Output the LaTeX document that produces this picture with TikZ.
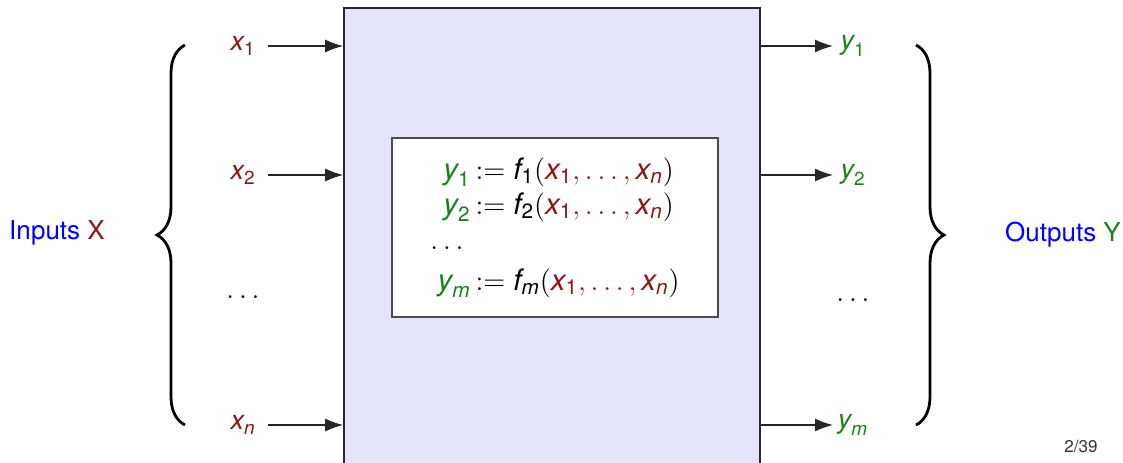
\documentclass[tikz,border=0pt]{standalone}
\usepackage{amsmath}
\usepackage{fontspec}
\setmainfont{TeX Gyre Heros}
\usetikzlibrary{arrows.meta,positioning,decorations.pathreplacing}
\definecolor{inred}{RGB}{139,22,22}
\definecolor{outgreen}{RGB}{25,130,25}
\definecolor{boxfill}{RGB}{228,228,250}
\newcommand{\vv}[1]{\text{\itshape #1}}
\newcommand{\xin}[1]{\textcolor{inred}{\vv{x}_{#1}}}
\newcommand{\yout}[1]{\textcolor{outgreen}{\vv{y}_{#1}}}
\newcommand{\xargs}{\textcolor{inred}{\vv{x}_{\text{1}}, \ldots, \vv{x}_{\vv{n}}}}

\begin{document}
\begin{tikzpicture}[
  x=0.5pt,y=-0.5pt,
  every node/.style={font=\fontsize{13.5}{16}\selectfont},
  lbl/.style={inner sep=1pt},
  feed/.style={draw=black!85,line width=0.7pt,-{Latex[length=9pt,width=6.5pt]}},
  brc/.style={draw=black,line width=1.4pt,decorate,decoration={brace,amplitude=14pt}}
]
\useasboundingbox (0,0) rectangle (1123,462);
\clip (0,0) rectangle (1123,462);

% the system
\node[draw=black!85,line width=0.8pt,fill=boxfill,inner sep=0pt,
  minimum width=208pt,minimum height=246pt] (sys) at (552,254) {};
\node[draw=black!70,line width=0.6pt,fill=white,inner sep=0pt,
  minimum width=163pt,minimum height=89.5pt,
  font=\fontsize{14.8}{17.5}\selectfont] (defs) at (555,227.5) {%
  \begin{tabular}{@{}r@{\,}l@{}}
    $\yout{\text{1}}$ & $:= \vv{f}_{\text{1}}(\xargs)$ \\
    $\yout{\text{2}}$ & $:= \vv{f}_{\text{2}}(\xargs)$ \\
    \multicolumn{1}{@{}l}{$\ldots$} & \\[3pt]
    $\yout{\vv{m}}$ & $:= \vv{f}_{\vv{m}}(\xargs)$
  \end{tabular}};

% inputs
\node[lbl] (x1) at (243,46) {$\xin{\text{1}}$};
\node[lbl] (x2) at (243,175) {$\xin{\text{2}}$};
\node[lbl] (xd) at (243,297) {$\ldots$};
\node[lbl] (xn) at (243,425) {$\xin{\vv{n}}$};
\foreach \n in {x1,x2,xn}
  \draw[feed] ([xshift=12.5pt]\n.center) -- (\n -| sys.west);

% outputs
\node[lbl] (y1) at (853,46) {$\yout{\text{1}}$};
\node[lbl] (y2) at (853,175) {$\yout{\text{2}}$};
\node[lbl] (yd) at (853,300) {$\ldots$};
\node[lbl] (ym) at (853,425) {$\yout{\vv{m}}$};
\foreach \n in {y1,y2,ym}
  \draw[feed] (\n -| sys.east) -- ([xshift=-10pt]\n.center);

% braces
\coordinate (inbot) at (185,425);
\coordinate (intop) at (185,45);
\coordinate (outtop) at (916,45);
\coordinate (outbot) at (916,425);
\draw[brc] (inbot) -- (intop);
\draw[brc] (outtop) -- (outbot);

\node[font=\fontsize{13}{15.6}\selectfont] (inputs) at (57,233) {\textcolor{blue}{Inputs} \textcolor{inred}{X}};
\node[font=\fontsize{13}{15.6}\selectfont] (outputs) at (1063,235) {\textcolor{blue}{Outputs} \textcolor{outgreen}{Y}};

\node[font=\fontsize{8.5}{10}\selectfont,text=black!80] (page) at (1081,446) {2/39};
\end{tikzpicture}
\end{document}
